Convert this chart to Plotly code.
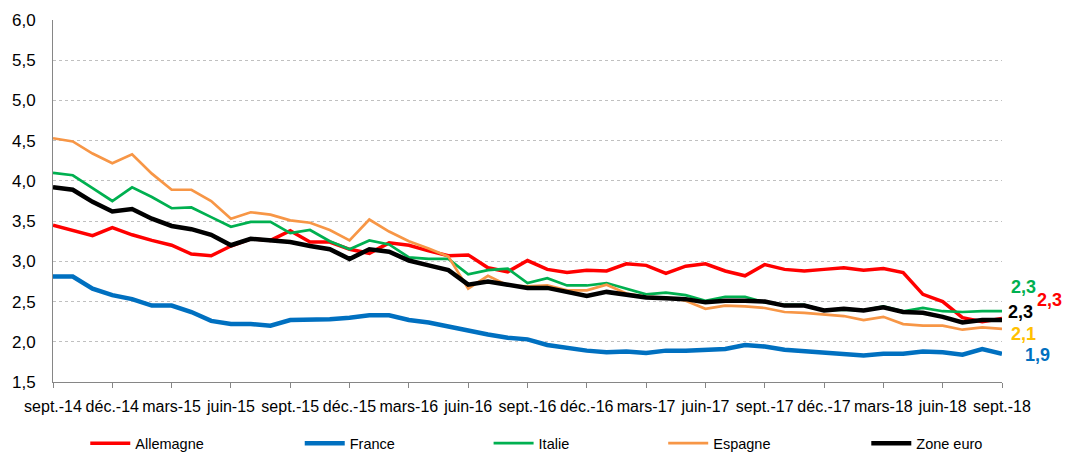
import plotly.graph_objects as go

months = ["sept.", "oct.", "nov.", "déc.", "janv.", "févr.", "mars", "avr.", "mai", "juin", "juil.", "août"]
categories = []
for k in range(49):
    m = k % 12
    yr = 14 + (k + 8) // 12
    categories.append(f"{months[m]}-{yr}")

tick_labels = [c for i, c in enumerate(categories) if i % 3 == 0]

allemagne = [3.45, 3.38, 3.32, 3.42, 3.33, 3.26, 3.20, 3.09, 3.07, 3.19,
             3.28, 3.26, 3.38, 3.24, 3.24, 3.15, 3.10, 3.23, 3.20, 3.13,
             3.07, 3.08, 2.92, 2.87, 3.01, 2.90, 2.86, 2.89, 2.88, 2.97,
             2.95, 2.85, 2.94, 2.97, 2.88, 2.82, 2.96, 2.90, 2.88, 2.90,
             2.92, 2.89, 2.91, 2.86, 2.59, 2.50, 2.30, 2.25, 2.29]
france = [2.81, 2.81, 2.66, 2.58, 2.53, 2.45, 2.45, 2.37, 2.26, 2.22,
          2.22, 2.20, 2.27, 2.27, 2.28, 2.30, 2.33, 2.33, 2.27, 2.24,
          2.19, 2.13, 2.09, 2.05, 2.03, 1.96, 1.92, 1.89, 1.87, 1.88,
          1.86, 1.89, 1.89, 1.90, 1.91, 1.96, 1.94, 1.90, 1.88, 1.87,
          1.85, 1.83, 1.85, 1.85, 1.88, 1.87, 1.84, 1.91, 1.85]
italie = [4.10, 4.07, 3.91, 3.75, 3.92, 3.80, 3.66, 3.67, 3.55, 3.43,
          3.49, 3.49, 3.35, 3.39, 3.25, 3.15, 3.26, 3.21, 3.05, 3.03,
          3.03, 2.84, 2.89, 2.91, 2.73, 2.79, 2.70, 2.70, 2.73, 2.66,
          2.59, 2.61, 2.58, 2.51, 2.56, 2.56, 2.49, 2.46, 2.46, 2.39,
          2.40, 2.39, 2.44, 2.38, 2.42, 2.38, 2.37, 2.38, 2.38]
espagne = [4.53, 4.49, 4.34, 4.22, 4.33, 4.09, 3.89, 3.89, 3.75, 3.53,
           3.61, 3.58, 3.51, 3.48, 3.39, 3.26, 3.52, 3.37, 3.25, 3.16,
           3.06, 2.66, 2.82, 2.70, 2.69, 2.70, 2.64, 2.64, 2.71, 2.60,
           2.56, 2.55, 2.51, 2.41, 2.45, 2.44, 2.42, 2.37, 2.36, 2.34,
           2.32, 2.27, 2.31, 2.22, 2.20, 2.20, 2.15, 2.18, 2.16]
zone_euro = [3.92, 3.89, 3.74, 3.62, 3.65, 3.53, 3.44, 3.40, 3.33, 3.20,
             3.28, 3.26, 3.24, 3.19, 3.15, 3.03, 3.15, 3.12, 3.01, 2.95,
             2.89, 2.71, 2.75, 2.71, 2.67, 2.67, 2.62, 2.57, 2.62, 2.58,
             2.55, 2.54, 2.53, 2.49, 2.51, 2.51, 2.50, 2.45, 2.45, 2.39,
             2.41, 2.39, 2.43, 2.37, 2.36, 2.31, 2.24, 2.27, 2.27]

series_names = ["Allemagne", "France", "Italie", "Espagne", "Zone euro"]
series_values = [allemagne, france, italie, espagne, zone_euro]
series_colors = ["#FF0000", "#0070C0", "#00B050", "#F79646", "#000000"]
series_widths = [3.5, 4.5, 2.7, 2.7, 4.5]

end_labels = ["2,3", "2,3", "2,3", "2,1", "1,9"]
end_label_colors = ["#00B050", "#FF0000", "#000000", "#FFC000", "#0070C0"]
end_label_pos = [(1.0222, 0.263, "center"), (1.0655, 0.227, "right"), (1.0200, 0.194, "center"),
                 (1.0222, 0.133, "center"), (1.0370, 0.0754, "center")]

legend_keys = ["legend", "legend2", "legend3", "legend4", "legend5"]
legend_x = [0.034, 0.260, 0.459, 0.643, 0.857]

FONT = "Liberation Sans, Arial, sans-serif"

fig = go.Figure()
for name, vals, col, w, lk in zip(series_names, series_values, series_colors, series_widths, legend_keys):
    fig.add_trace(go.Scatter(x=categories, y=vals, mode="lines", name=name,
                             line=dict(color=col, width=w), legend=lk, showlegend=True))

layout_legends = {}
for lk, lx in zip(legend_keys, legend_x):
    layout_legends[lk] = dict(x=lx, y=0.024, yref="container", xanchor="left", yanchor="middle",
                              orientation="h", bgcolor="rgba(0,0,0,0)",
                              font=dict(family=FONT, size=14.5, color="#000000"),
                              itemwidth=40, tracegroupgap=0, visible=True)

# page body has an 8px default margin: figure sized so the plot sits where the reference has it
fig.update_layout(
    width=1062, height=446,
    margin=dict(l=45, r=68, t=12, b=72, autoexpand=False),
    paper_bgcolor="white", plot_bgcolor="white",
    separators=", ",
    showlegend=True,
    font=dict(family=FONT, size=16, color="#000000"),
    **layout_legends,
)

fig.update_xaxes(
    type="category", categoryorder="array", categoryarray=categories,
    range=[0, 48], tickmode="array", tickvals=tick_labels, ticktext=tick_labels,
    showline=True, linecolor="#868686", linewidth=1,
    ticks="outside", ticklen=5, tickcolor="#868686", tickangle=0,
    ticklabelstandoff=5, automargin=False,
    showgrid=False, tickfont=dict(family=FONT, size=16, color="#000000"),
)
fig.update_yaxes(
    range=[1.5, 6.0], dtick=0.5, tick0=1.5, tickformat=".1f",
    showline=True, linecolor="#868686", linewidth=1,
    showgrid=True, gridcolor="#C0C0C0", griddash="dot", gridwidth=1,
    zeroline=False, ticks="", ticklabelstandoff=13, automargin=False,
    tickfont=dict(family=FONT, size=17, color="#000000"),
)

for txt, col, (ax, ay, anc) in zip(end_labels, end_label_colors, end_label_pos):
    fig.add_annotation(x=ax, y=ay, xref="paper", yref="paper", text=f"<b>{txt}</b>",
                       showarrow=False, xanchor=anc, yanchor="middle",
                       font=dict(family=FONT, size=18, color=col))

fig.write_html("out.html")
